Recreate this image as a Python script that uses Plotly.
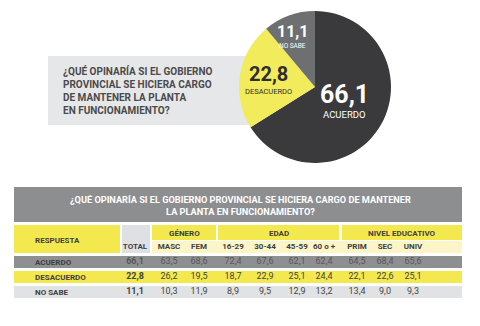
import plotly.graph_objects as go

# ---- data ----
pie_labels = ["ACUERDO", "DESACUERDO", "NO SABE"]
pie_values = [66.1, 22.8, 11.1]
pie_colors = ["#3a3a3c", "#f2ec5c", "#6e6f71"]

question = "¿QUÉ OPINARÍA SI EL GOBIERNO<br>PROVINCIAL SE HICIERA CARGO<br>DE MANTENER LA PLANTA<br>EN FUNCIONAMIENTO?"
table_title = "¿QUÉ OPINARÍA SI EL GOBIERNO PROVINCIAL SE HICIERA CARGO DE MANTENER<br>LA PLANTA EN FUNCIONAMIENTO?"

row_labels = ["ACUERDO", "DESACUERDO", "NO SABE"]
columns = ["TOTAL", "MASC", "FEM", "16-29", "30-44", "45-59", "60 o +", "PRIM", "SEC", "UNIV"]
groups = ["GÉNERO", "EDAD", "NIVEL EDUCATIVO"]
values = {
    "TOTAL": [66.1, 22.8, 11.1],
    "MASC": [63.5, 26.2, 10.3],
    "FEM": [68.6, 19.5, 11.9],
    "16-29": [72.4, 18.7, 8.9],
    "30-44": [67.6, 22.9, 9.5],
    "45-59": [62.1, 25.1, 12.9],
    "60 o +": [62.4, 24.4, 13.2],
    "PRIM": [64.5, 22.1, 13.4],
    "SEC": [68.4, 22.6, 9.0],
    "UNIV": [65.6, 25.1, 9.3],
}

# ---- layout constants ----
W, H = 480, 326
FONT = "Roboto, Liberation Sans Narrow, sans-serif"
col_x = [135, 169, 199, 233, 265, 297, 324, 357, 385, 413]
group_x = [(152, 216), (218, 339), (342, 462)]
row_y = [(256, 268), (271, 283), (286, 298)]
row_bg = ["#8e8f91", "#f3e94e", "#e1e2e4"]
val_color = ["#58585a", "#444444", "#444444"]
YEL = "#f3e94e"
LYEL = "#fbf5c8"

fig = go.Figure()

def fmt(v):
    return f"{v:.1f}".replace(".", ",")

shapes = []
def rect(x0, y0, x1, y1, color, layer="below"):
    shapes.append(dict(type="rect", xref="x", yref="y", x0=x0, y0=y0, x1=x1, y1=y1,
                       fillcolor=color, line=dict(width=0), layer=layer))

# question box behind pie
rect(48, 56, 255, 125, "#e6e7e8")
# table
rect(14, 187, 462, 222, "#8d8e90")
rect(14, 225, 120, 253, YEL)
rect(122, 225, 150, 253, "#dfe0e3")
for g0, g1 in group_x:
    rect(g0, 225, g1, 240, YEL)
rect(152, 241, 462, 253, LYEL)
for (y0, y1), c in zip(row_y, row_bg):
    rect(14, y0, 462, y1, c)

# pie
cx, cy, r = 315, 87, 76
fig.add_trace(go.Pie(
    labels=pie_labels, values=pie_values, sort=False, direction="clockwise", rotation=0,
    marker=dict(colors=pie_colors, line=dict(width=0)), textinfo="none", hoverinfo="label+value",
    domain=dict(x=[(cx - r) / W, (cx + r) / W], y=[1 - (cy + r) / H, 1 - (cy - r) / H]),
    showlegend=False,
))

ann = []
def text(x, y, t, size, color, bold=False, xanchor="center", align="center"):
    ann.append(dict(x=x, y=y, xref="x", yref="y", text=f"<b>{t}</b>" if bold else t,
                    showarrow=False, xanchor=xanchor, yanchor="middle", align=align,
                    font=dict(family=FONT, size=size, color=color)))

# question text
text(61, 90, question, 10, "#4b4b4d", bold=True, xanchor="left", align="left")
# pie labels
text(292, 31, fmt(pie_values[2]), 16, "white", bold=True)
text(292, 45.5, pie_labels[2], 6.5, "white")
text(268, 74, fmt(pie_values[1]), 20, "#2e2e2e", bold=True)
text(268, 91.5, pie_labels[1], 7.5, "#2e2e2e")
text(344, 94, fmt(pie_values[0]), 25, "white", bold=True)
text(344, 114, pie_labels[0], 9.5, "white")

# table title
text(240, 205, table_title, 9.2, "white", bold=True)
text(33, 240, "RESPUESTA", 8, "#3f3f3f", bold=True, xanchor="left")
for g, (g0, g1) in zip(groups, group_x):
    text((g0 + g1) / 2, 233, g, 8, "#3f3f3f", bold=True)

# column headers and values via text scatter
fig.add_trace(go.Scatter(
    x=col_x, y=[247] * len(columns), mode="text",
    text=[f"<b>{c}</b>" for c in columns], textposition="middle center",
    textfont=dict(family=FONT, size=8, color="#3f3f3f"), hoverinfo="skip", showlegend=False))
for i, lab in enumerate(row_labels):
    yc = (row_y[i][0] + row_y[i][1]) / 2
    text(33, yc, lab, 8, "#3f3f3f", bold=True, xanchor="left")
    fig.add_trace(go.Scatter(
        x=col_x, y=[yc] * len(columns), mode="text",
        text=[(f"<b>{fmt(values[c][i])}</b>" if c == "TOTAL" else fmt(values[c][i])) for c in columns],
        textposition="middle center",
        textfont=dict(family=FONT, size=9, color=val_color[i]),
        hoverinfo="skip", showlegend=False))

fig.update_layout(
    width=W, height=H, margin=dict(l=0, r=0, t=0, b=0),
    paper_bgcolor="white", plot_bgcolor="white",
    xaxis=dict(range=[0, W], visible=False, fixedrange=True, domain=[0, 1]),
    yaxis=dict(range=[H, 0], visible=False, fixedrange=True, domain=[0, 1]),
    shapes=shapes, annotations=ann,
)
fig.write_html("out.html")
